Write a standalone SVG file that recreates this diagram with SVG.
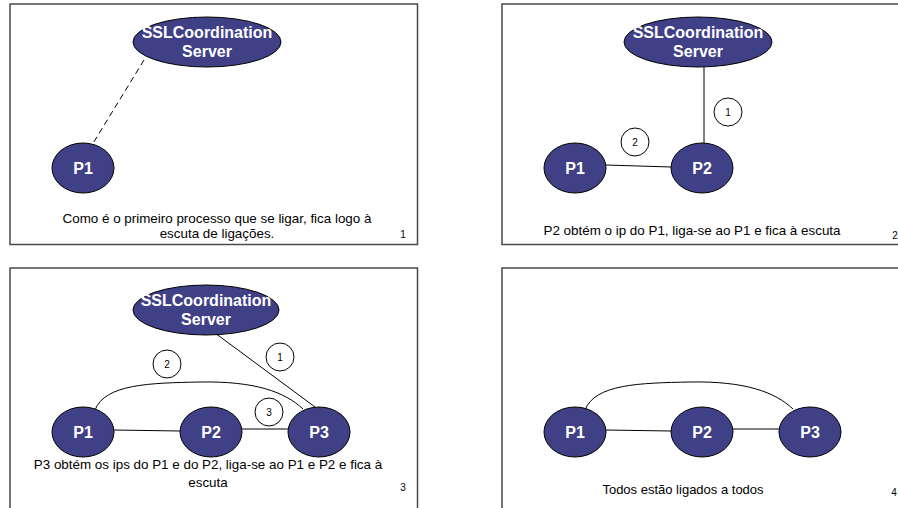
<svg xmlns="http://www.w3.org/2000/svg" width="898" height="508" viewBox="0 0 898 508">
<style>
.frame{fill:#fff;stroke:#4a4a4a;stroke-width:1.5}
.node ellipse{fill:#404087;stroke:#000;stroke-width:1}
.node text{fill:#fff;font-family:"Liberation Sans",Arial,sans-serif;font-weight:bold;text-anchor:middle}
.lbl{font-size:16px}
.p{font-size:16px}
.step circle{fill:#fff;stroke:#000;stroke-width:1}
.step text{font-family:"Liberation Sans",Arial,sans-serif;font-size:10px;text-anchor:middle;fill:#000}
.conn{fill:none;stroke:#000;stroke-width:1}
.dash{stroke-dasharray:6,4}
.cap{font-family:"Liberation Sans",Arial,sans-serif;font-size:13.4px;text-anchor:middle;fill:#000}
.cap4{font-size:13px}
.num{font-family:"Liberation Sans",Arial,sans-serif;font-size:10px;text-anchor:middle;fill:#000}
</style>
<rect width="898" height="508" fill="#fff"/>
<!-- frames -->
<rect class="frame" x="10" y="4" width="407.5" height="240.5"/>
<rect class="frame" x="502" y="4" width="407.5" height="240.5"/>
<rect class="frame" x="10" y="268" width="407.5" height="250"/>
<rect class="frame" x="502" y="268" width="407.5" height="250"/>

<g id="connectors">
  <!-- panel 1 -->
  <line class="conn dash" x1="144" y1="60" x2="92" y2="145"/>
  <!-- panel 2 -->
  <line class="conn" x1="704" y1="67" x2="704" y2="143"/>
  <line class="conn" x1="606" y1="165" x2="671" y2="167"/>
  <!-- panel 3 -->
  <line class="conn" x1="215" y1="333" x2="315" y2="407"/>
  <line class="conn" x1="114" y1="430" x2="180" y2="431"/>
  <line class="conn" x1="242" y1="429" x2="288" y2="429"/>
  <path class="conn" d="M95,410 C105,384 150,383 200,382 C255,381 285,392 303,409"/>
  <!-- panel 4 -->
  <line class="conn" x1="606" y1="430" x2="671" y2="431"/>
  <line class="conn" x1="733" y1="429" x2="779" y2="429"/>
  <path class="conn" d="M585,410 C595,384 640,383 690,382 C745,381 775,392 793,409"/>
</g>

<!-- panel 1 nodes -->
<g id="p1-server" class="node">
  <ellipse cx="207" cy="42" rx="74" ry="25"/>
  <text class="lbl" x="207" y="38">SSLCoordination</text>
  <text class="lbl" x="207" y="57">Server</text>
</g>
<g id="p1-P1" class="node">
  <ellipse cx="83" cy="168" rx="31" ry="25"/>
  <text class="p" x="83" y="174">P1</text>
</g>
<text class="cap" x="217" y="223">Como é o primeiro processo que se ligar, fica logo à</text>
<text class="cap" x="217" y="238">escuta de ligações.</text>
<text class="num" x="403" y="238">1</text>

<!-- panel 2 nodes -->
<g id="p2-server" class="node">
  <ellipse cx="698" cy="42" rx="74" ry="25"/>
  <text class="lbl" x="698" y="38">SSLCoordination</text>
  <text class="lbl" x="698" y="57">Server</text>
</g>
<g id="p2-P1" class="node">
  <ellipse cx="575" cy="168" rx="31" ry="25"/>
  <text class="p" x="575" y="174">P1</text>
</g>
<g id="p2-P2" class="node">
  <ellipse cx="702" cy="168" rx="31" ry="25"/>
  <text class="p" x="702" y="174">P2</text>
</g>
<g id="p2-step1" class="step"><circle cx="728" cy="112" r="14"/><text x="728" y="116">1</text></g>
<g id="p2-step2" class="step"><circle cx="635" cy="142" r="14"/><text x="635" y="146">2</text></g>
<text class="cap" x="692" y="235">P2 obtém o ip do P1, liga-se ao P1 e fica à escuta</text>
<text class="num" x="895" y="239">2</text>

<!-- panel 3 nodes -->
<g id="p3-server" class="node">
  <ellipse cx="206" cy="310" rx="73" ry="25"/>
  <text class="lbl" x="206" y="306">SSLCoordination</text>
  <text class="lbl" x="206" y="325">Server</text>
</g>
<g id="p3-P1" class="node">
  <ellipse cx="83" cy="432" rx="31" ry="25"/>
  <text class="p" x="83" y="438">P1</text>
</g>
<g id="p3-P2" class="node">
  <ellipse cx="211" cy="432" rx="31" ry="25"/>
  <text class="p" x="211" y="438">P2</text>
</g>
<g id="p3-P3" class="node">
  <ellipse cx="319" cy="432" rx="31" ry="25"/>
  <text class="p" x="319" y="438">P3</text>
</g>
<g id="p3-step1" class="step"><circle cx="280" cy="357" r="14"/><text x="280" y="361">1</text></g>
<g id="p3-step2" class="step"><circle cx="167" cy="364" r="14"/><text x="167" y="368">2</text></g>
<g id="p3-step3" class="step"><circle cx="269" cy="412" r="14"/><text x="269" y="416">3</text></g>
<text class="cap" x="208" y="469">P3 obtém os ips do P1 e do P2, liga-se ao P1 e P2 e fica à</text>
<text class="cap" x="208" y="487">escuta</text>
<text class="num" x="403" y="491">3</text>

<!-- panel 4 nodes -->
<g id="p4-P1" class="node">
  <ellipse cx="575" cy="432" rx="31" ry="25"/>
  <text class="p" x="575" y="438">P1</text>
</g>
<g id="p4-P2" class="node">
  <ellipse cx="702" cy="432" rx="31" ry="25"/>
  <text class="p" x="702" y="438">P2</text>
</g>
<g id="p4-P3" class="node">
  <ellipse cx="810" cy="432" rx="31" ry="25"/>
  <text class="p" x="810" y="438">P3</text>
</g>
<text class="cap cap4" x="683" y="494">Todos estão ligados a todos</text>
<text class="num" x="894" y="496">4</text>
</svg>
